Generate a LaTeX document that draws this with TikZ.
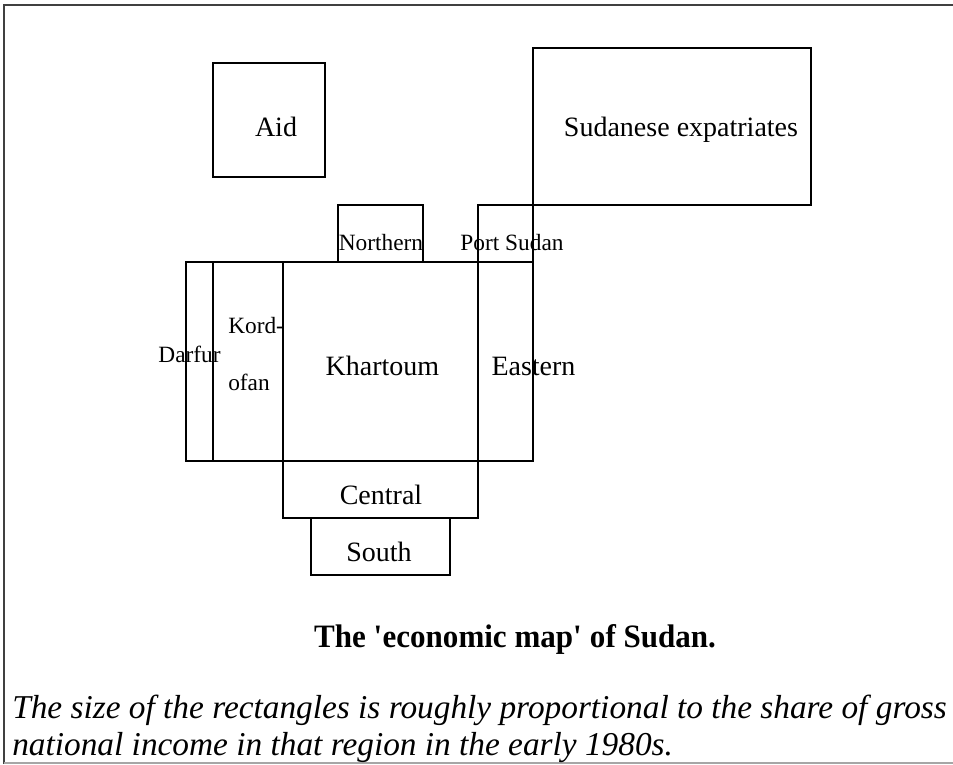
\documentclass[tikz,border=0pt]{standalone}
\usepackage{fontspec}
\setmainfont{Liberation Serif}
\newfontfamily\titlefont[FakeStretch=0.95]{Liberation Serif}

\begin{document}
\begin{tikzpicture}[x=0.75pt,y=-0.75pt]
  \tikzset{
    region/.style={draw=black,line width=1.6pt},
    big/.style={font=\fontsize{21}{25}\selectfont,anchor=base,inner sep=0pt},
    small/.style={font=\fontsize{17.5}{21}\selectfont,anchor=base,inner sep=0pt},
    note/.style={font=\itshape\fontsize{25}{28}\selectfont,anchor=base west,inner sep=0pt},
  }
  \useasboundingbox (0,0) rectangle (953,764);

    %FRAME
    \draw[line width=1.2pt,black!75] (4,764) -- (4,5) -- (953,5);
    \draw[line width=1pt,black!35] (4,763) -- (953,763);

    %REGIONS
    \foreach \xa/\ya/\xb/\yb in {213/63/325/177, 533/48/811/205, 338/205/423/262,
      478/205/533/262, 186/262/213/461, 213/262/283/461, 283/262/478/461,
      478/262/533/461, 283/461/478/518, 311/518/450/575} {
      \draw[region] (\xa,\ya) rectangle (\xb,\yb);
    }

    %LABELS
    \node[big] (aid) at (276,136) {Aid};
    \node[big] (expat) at (681,136) {Sudanese expatriates};
    \node[small] (northern) at (381,250) {Northern};
    \node[small] (port) at (512,250) {Port Sudan};
    \node[small] (darfur) at (189.5,362) {Darfur};
    \node[small,anchor=base west] (kord) at (228,333) {Kord-};
    \node[small,anchor=base west] (ofan) at (228,390) {ofan};
    \node[big] (khartoum) at (382.5,375) {Khartoum};
    \node[big] (eastern) at (533.5,375) {Eastern};
    \node[big] (central) at (381,504) {Central};
    \node[big] (south) at (379,561) {South};

    %CAPTION
    \node[font=\titlefont\bfseries\fontsize{24.5}{28}\selectfont,anchor=base,inner sep=0pt] (title) at (515,647)
      {The \textquotesingle economic map\textquotesingle{} of Sudan.};
    \node[note] (note1) at (12,718) {The size of the rectangles is roughly proportional to the share of gross};
    \node[note] (note2) at (12,755) {national income in that region in the early 1980s.};
\end{tikzpicture}
\end{document}
